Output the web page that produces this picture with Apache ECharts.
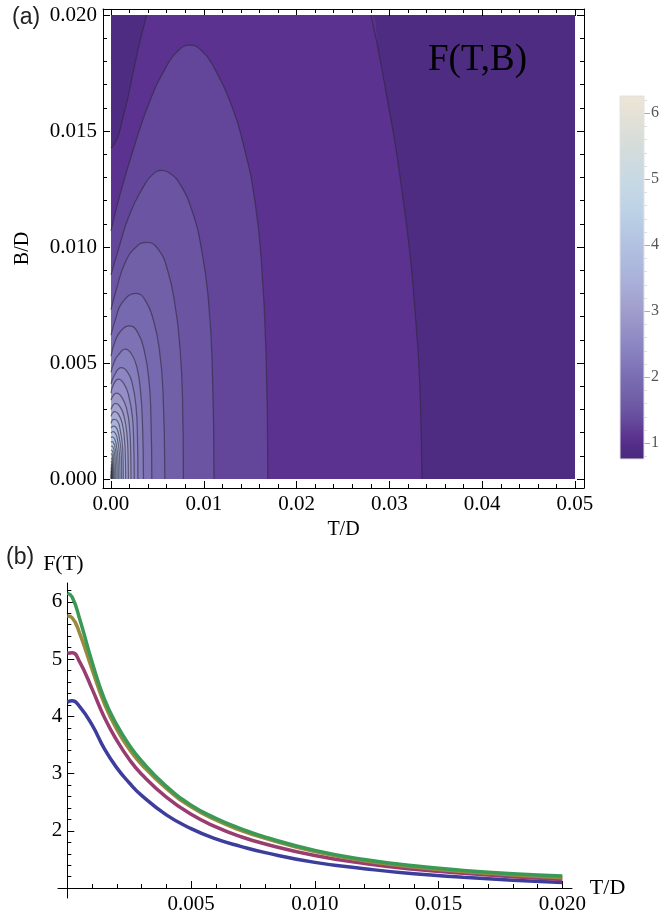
<!DOCTYPE html>
<html><head><meta charset="utf-8">
<script src="https://cdn.jsdelivr.net/npm/echarts@6/dist/echarts.min.js"></script>
<style>html,body{margin:0;padding:0;background:#fff}#c{width:664px;height:915px}</style>
</head><body><div id="c"></div>
<script>
// ================= DATA =================
// (a) contour plot F(T,B): axes ticks
const contourTicksT = [0, 0.01, 0.02, 0.03, 0.04, 0.05];
const contourMinorT = [0.002,0.004,0.006,0.008,0.012,0.014,0.016,0.018,0.022,0.024,0.026,0.028,0.032,0.034,0.036,0.038,0.042,0.044,0.046,0.048];
const contourTicksB = [0, 0.005, 0.01, 0.015, 0.02];
const contourMinorB = [0.001,0.002,0.003,0.004,0.006,0.007,0.008,0.009,0.011,0.012,0.013,0.014,0.016,0.017,0.018,0.019];
// colour bar
const colorbarRange = [0.76, 6.26];
const colorbarTicks = [1, 2, 3, 4, 5, 6];
const colorbarMinor = [0.8,1.2,1.4,1.6,1.8,2.2,2.4,2.6,2.8,3.2,3.4,3.6,3.8,4.2,4.4,4.6,4.8,5.2,5.4,5.6,5.8,6.2];
// contour F = 1.0 (two branches) [T/D, B/D]
const rightContour = [[0.028,0.02],[0.0288,0.0185],[0.0298,0.0163],[0.0306,0.0145],[0.0315,0.012],[0.0323,0.0094],[0.0328,0.007],[0.03315,0.0051],[0.0334,0.0025],[0.0335,0]];
const topLeftContour = [[0,0.01427],[0.0003,0.0144],[0.0008,0.0148],[0.0013,0.0156],[0.0018,0.0164],[0.0029,0.0185],[0.00385,0.02]];
// closed contours around the origin, levels 1.2 ... 6.0
const arcLevels = [1.2,1.4,1.6,1.8,2.0,2.2,2.4,2.6,2.8,3.0,3.2,3.4,3.6,3.8,4.0,4.2,4.4,4.6,4.8,5.0,5.2,5.4,5.6,5.8,6.0];
const arcs = [
 [[0,0.0107],[0.0008,0.0120],[0.0024,0.0142],[0.0042,0.0163],[0.006,0.0178],[0.0072,0.01845],[0.0085,0.0187],[0.0098,0.01845],[0.011,0.0178],[0.0128,0.0163],[0.0144,0.0142],[0.0155,0.012],[0.0162,0.0094],[0.0167,0.0055],[0.0169,0]],
 [[0,0.0088],[0.0008,0.0099],[0.002,0.0114],[0.0035,0.0126],[0.0045,0.01313],[0.0055,0.0133],[0.0064,0.01316],[0.0073,0.0128],[0.0087,0.0116],[0.0098,0.0098],[0.0105,0.0077],[0.0109,0.005],[0.0111,0]],
 [[0,0.0073],[0.0006,0.0082],[0.0015,0.0093],[0.0027,0.0100],[0.0039,0.0102],[0.0051,0.0099],[0.0061,0.0090],[0.0069,0.0075],[0.0074,0.0058],[0.0077,0.0036],[0.0078,0]],
 [[0,0.0062],[0.0005,0.0069],[0.0012,0.0076],[0.0027,0.0080],[0.0037,0.0077],[0.0046,0.0068],[0.0052,0.0056],[0.0056,0.0038],[0.0058,0]],
 [[0,0.0053],[0.0005,0.006],[0.0011,0.0064],[0.002,0.0066],[0.0029,0.0063],[0.0036,0.0055],[0.0041,0.0042],[0.0043,0.0027],[0.0044,0]],
 [[0,0.0046],[0.0004,0.0051],[0.0009,0.0054],[0.0015,0.0056],[0.0022,0.0054],[0.0028,0.0048],[0.0032,0.0037],[0.0034,0.0023],[0.0035,0]],
 [[0,0.0041],[0.0004,0.0045],[0.0011,0.0048],[0.0018,0.0046],[0.0023,0.0041],[0.0027,0.0031],[0.00285,0.0018],[0.0029,0]],
 [[0,0.0037],[0.0003,0.0041],[0.0008,0.0043],[0.0014,0.0041],[0.0019,0.0036],[0.0023,0.0027],[0.00245,0.0015],[0.0025,0]],
 [[0,0.0034],[0.0006,0.0037],[0.0012,0.0035],[0.0017,0.003],[0.002,0.0022],[0.00212,0.0012],[0.00216,0]],
 [[0,0.0030],[0.0005,0.00326],[0.001,0.0031],[0.0014,0.0027],[0.0017,0.002],[0.00183,0.0011],[0.00187,0]],
 [[0,0.0027],[0.0004,0.0029],[0.0008,0.0028],[0.0012,0.0024],[0.00145,0.0017],[0.00155,0.0009],[0.00158,0]],
 [[0,0.0024],[0.0003,0.00257],[0.0007,0.0025],[0.001,0.0021],[0.00122,0.0015],[0.0013,0.0008],[0.00133,0]],
 [[0,0.0022],[0.00025,0.00228],[0.0006,0.0022],[0.00088,0.0018],[0.00106,0.0013],[0.00113,0.0007],[0.00115,0]],
 [[0,0.00198],[0.0002,0.00204],[0.0005,0.00195],[0.00074,0.0016],[0.0009,0.0011],[0.00095,0.0006],[0.00097,0]],
 [[0,0.00178],[0.00015,0.00182],[0.0004,0.00172],[0.0006,0.0014],[0.00073,0.001],[0.00078,0.0005],[0.00079,0]],
 [[0,0.00158],[0.00012,0.00161],[0.00032,0.00152],[0.0005,0.0012],[0.0006,0.0008],[0.00064,0.0004],[0.00065,0]],
 [[0,0.0014],[0.0001,0.00142],[0.00025,0.00133],[0.00038,0.0011],[0.00046,0.0007],[0.00049,0.0003],[0.0005,0]],
 [[0,0.00123],[0.00008,0.00125],[0.0002,0.00115],[0.00031,0.0008],[0.00036,0.0003],[0.00037,0]],
 [[0,0.00106],[0.00006,0.00108],[0.00014,0.001],[0.00022,0.0007],[0.00026,0.0003],[0.00027,0]],
 [[0,0.00091],[0.00004,0.00093],[0.0001,0.00085],[0.00015,0.0006],[0.00018,0]],
 [[0,0.00077],[0.00003,0.00079],[0.00007,0.0007],[0.0001,0.0005],[0.00012,0]],
 [[0,0.00063],[0.00002,0.00065],[0.00005,0.00055],[0.00008,0]],
 [[0,0.0005],[0.00002,0.0005],[0.00004,0.0004],[0.00005,0]],
 [[0,0.00036],[0.00002,0.00035],[0.00003,0]],
 [[0,0.0002],[0.00001,0.0002],[0.000015,0]]
];
// (b) F(T) curves
const lineT       = [0, 0.0002, 0.0005, 0.001, 0.0015, 0.002, 0.0025, 0.003, 0.004, 0.005, 0.006, 0.007, 0.008, 0.010, 0.012, 0.014, 0.016, 0.018, 0.020];
const curveBlue   = [4.25, 4.27, 4.17, 3.85, 3.43, 3.10, 2.84, 2.62, 2.28, 2.04, 1.86, 1.73, 1.62, 1.45, 1.34, 1.25, 1.19, 1.14, 1.10];
const curvePurple = [5.10, 5.11, 4.95, 4.48, 3.98, 3.58, 3.25, 2.99, 2.59, 2.29, 2.07, 1.90, 1.77, 1.57, 1.43, 1.33, 1.26, 1.20, 1.15];
const curveOlive  = [5.75, 5.72, 5.45, 4.82, 4.22, 3.77, 3.43, 3.16, 2.74, 2.42, 2.19, 2.01, 1.87, 1.64, 1.48, 1.37, 1.29, 1.23, 1.18];
const curveGreen  = [6.15, 6.08, 5.70, 4.95, 4.30, 3.85, 3.50, 3.22, 2.78, 2.45, 2.22, 2.04, 1.89, 1.66, 1.50, 1.39, 1.31, 1.25, 1.21];
const lineTicksT = [0.005, 0.010, 0.015, 0.020];
const lineMinorT = [0.001,0.002,0.003,0.004,0.006,0.007,0.008,0.009,0.011,0.012,0.013,0.014,0.016,0.017,0.018,0.019];
const lineTicksF = [2, 3, 4, 5, 6];
const lineMinorF = [1.2,1.4,1.6,1.8,2.2,2.4,2.6,2.8,3.2,3.4,3.6,3.8,4.2,4.4,4.6,4.8,5.2,5.4,5.6,5.8,6.2];

// ================= STYLE =================
const colorStops = [[0.76,'#4a2a7e'],[0.9,'#4d2c82'],[1.1,'#5b3290'],[1.3,'#634699'],[1.5,'#6b55a2'],[1.7,'#7160a8'],[2.0,'#7a6db2'],[2.5,'#8c87c3'],[3.0,'#a09dcc'],[3.5,'#aab2da'],[4.0,'#b2c1e1'],[4.5,'#bcd2e6'],[5.0,'#c7d9e4'],[5.5,'#d5dcda'],[6.0,'#e5e2d6'],[6.26,'#ede6d6']];
function hex(h){return [parseInt(h.substr(1,2),16),parseInt(h.substr(3,2),16),parseInt(h.substr(5,2),16)];}
function colorAt(v){
  if(v<=colorStops[0][0]) return colorStops[0][1];
  for(let i=1;i<colorStops.length;i++){
    if(v<=colorStops[i][0]){
      const a=colorStops[i-1],b=colorStops[i];const f=(v-a[0])/(b[0]-a[0]);
      const ca=hex(a[1]),cb=hex(b[1]);
      return 'rgb('+ca.map((c,k)=>Math.round(c+(cb[k]-c)*f)).join(',')+')';
    }
  }
  return colorStops[colorStops.length-1][1];
}
const SERIF='"Liberation Serif","Times New Roman",serif';
const SANS='"Liberation Sans",Arial,sans-serif';
const contourLine={color:'rgba(45,40,60,0.6)',width:1.25};

// ================= CHART =================
const chart=echarts.init(document.getElementById('c'),null,{renderer:'canvas'});

function frameAxis(pos,gridIndex,min,max,vals,len,opts){
  const a={type:'value',gridIndex,position:pos,min,max,
    axisLine:{show:true,onZero:false,lineStyle:{color:'#000',width:1}},
    axisTick:{show:true,inside:true,length:len,customValues:vals,lineStyle:{color:'#000',width:1}},
    axisLabel:{show:false},splitLine:{show:false}};
  return Object.assign(a,opts||{});
}
const fxMin=-0.000862,fxMax=0.05097,fyMin=-0.000388,fyMax=0.0202586;

const xAxes=[
  frameAxis('bottom',0,fxMin,fxMax,contourTicksT,7,{
    axisLabel:{show:true,customValues:contourTicksT,formatter:v=>v.toFixed(2),fontFamily:SERIF,fontSize:21,color:'#000',margin:6},
    name:'T/D',nameLocation:'middle',nameGap:31,nameTextStyle:{fontFamily:SERIF,fontSize:20,color:'#000'}}),
  frameAxis('bottom',0,fxMin,fxMax,contourMinorT,4,{axisLine:{show:false,onZero:false}}),
  frameAxis('top',0,fxMin,fxMax,contourTicksT,7),
  frameAxis('top',0,fxMin,fxMax,contourMinorT,4,{axisLine:{show:false,onZero:false}}),
  {type:'value',gridIndex:1,min:0,max:0.05,show:false,axisLine:{onZero:false}},
  {type:'value',gridIndex:2,min:0,max:1,show:false,axisLine:{onZero:false}},
  {type:'value',gridIndex:3,position:'bottom',offset:-10,min:-0.000376,max:0.02039,
    axisLine:{show:true,onZero:false,lineStyle:{color:'#000',width:1}},
    axisTick:{show:true,inside:true,length:7,customValues:lineTicksT,lineStyle:{color:'#000'}},
    axisLabel:{show:true,customValues:lineTicksT,formatter:v=>v.toFixed(3),fontFamily:SERIF,fontSize:21,color:'#000',margin:6},
    splitLine:{show:false},
    name:'T/D',nameLocation:'end',nameGap:12,nameTextStyle:{fontFamily:SERIF,fontSize:22,color:'#000'}},
  {type:'value',gridIndex:3,position:'bottom',offset:-10,min:-0.000376,max:0.02039,
    axisLine:{show:false,onZero:false},
    axisTick:{show:true,inside:true,length:4,customValues:lineMinorT,lineStyle:{color:'#000'}},
    axisLabel:{show:false},splitLine:{show:false}}
];
const yAxes=[
  frameAxis('left',0,fyMin,fyMax,contourTicksB,7,{
    axisLabel:{show:true,customValues:contourTicksB,formatter:v=>v.toFixed(3),fontFamily:SERIF,fontSize:21,color:'#000',margin:6},
    name:'B/D',nameLocation:'middle',nameGap:70,nameTextStyle:{fontFamily:SERIF,fontSize:20,color:'#000'}}),
  frameAxis('left',0,fyMin,fyMax,contourMinorB,4,{axisLine:{show:false,onZero:false}}),
  frameAxis('right',0,fyMin,fyMax,contourTicksB,7),
  frameAxis('right',0,fyMin,fyMax,contourMinorB,4,{axisLine:{show:false,onZero:false}}),
  {type:'value',gridIndex:1,min:0,max:0.02,show:false,axisLine:{onZero:false}},
  {type:'value',gridIndex:2,position:'right',min:colorbarRange[0],max:colorbarRange[1],
    axisLine:{show:false,onZero:false},
    axisTick:{show:true,inside:false,length:6,customValues:colorbarTicks,lineStyle:{color:'#aaa'}},
    axisLabel:{show:true,customValues:colorbarTicks,fontFamily:SERIF,fontSize:16,color:'#555',margin:7},
    splitLine:{show:false}},
  {type:'value',gridIndex:2,position:'right',min:colorbarRange[0],max:colorbarRange[1],
    axisLine:{show:false,onZero:false},
    axisTick:{show:true,inside:false,length:3,customValues:colorbarMinor,lineStyle:{color:'#ddd'}},
    axisLabel:{show:false},splitLine:{show:false}},
  {type:'value',gridIndex:3,position:'left',offset:-9.3,min:0.828,max:6.328,
    axisLine:{show:true,onZero:false,lineStyle:{color:'#000',width:1}},
    axisTick:{show:true,inside:true,length:7,customValues:lineTicksF,lineStyle:{color:'#000'}},
    axisLabel:{show:true,customValues:lineTicksF,fontFamily:SERIF,fontSize:21,color:'#000',margin:5},
    splitLine:{show:false},
    name:'F(T)',nameLocation:'end',nameGap:8,nameTextStyle:{fontFamily:SERIF,fontSize:22,color:'#000',align:'center',padding:[0,8,0,0]}},
  {type:'value',gridIndex:3,position:'left',offset:-9.3,min:0.828,max:6.328,
    axisLine:{show:false,onZero:false},
    axisTick:{show:true,inside:true,length:4,customValues:lineMinorF,lineStyle:{color:'#000'}},
    axisLabel:{show:false},splitLine:{show:false}}
];

const series=[];
// region F > 1 (left of the right F=1 contour)
series.push({type:'line',xAxisIndex:4,yAxisIndex:4,data:[[0,0.02]].concat(rightContour),
  smooth:0.4,symbol:'none',silent:true,
  lineStyle:{width:0,opacity:0},areaStyle:{color:colorAt(1.1),opacity:1}});
series.push({type:'line',xAxisIndex:4,yAxisIndex:4,data:rightContour,smooth:0.4,symbol:'none',silent:true,lineStyle:contourLine});
// top-left region F < 1
series.push({type:'line',xAxisIndex:4,yAxisIndex:4,data:topLeftContour,smooth:0.4,symbol:'none',silent:true,
  lineStyle:contourLine,areaStyle:{origin:'end',color:colorAt(0.9),opacity:1}});
arcs.forEach((pts,i)=>{
  series.push({type:'line',xAxisIndex:4,yAxisIndex:4,data:pts,smooth:0.5,symbol:'none',silent:true,
    lineStyle:contourLine,areaStyle:{color:colorAt(arcLevels[i]+0.1),opacity:1}});
});
// colour bar
series.push({type:'custom',xAxisIndex:5,yAxisIndex:5,silent:true,data:[[colorbarRange[0],colorbarRange[1]]],
  renderItem:(params,api)=>{
    const p0=api.coord([0,api.value(0)]),p1=api.coord([1,api.value(1)]);
    const span=colorbarRange[1]-colorbarRange[0];
    const stops=colorStops.map(s=>({offset:(s[0]-colorbarRange[0])/span,color:s[1]}));
    return {type:'rect',shape:{x:p0[0],y:p1[1],width:p1[0]-p0[0],height:p0[1]-p1[1]},
      style:{fill:new echarts.graphic.LinearGradient(0,1,0,0,stops),stroke:'#e2e2e2',lineWidth:1}};
  }});
// (b) curves
[[curveBlue,'#3d3d9c'],[curvePurple,'#993d71'],[curveOlive,'#9b8a3d'],[curveGreen,'#3a9a55']].forEach(([c,col])=>{
  series.push({type:'line',xAxisIndex:6,yAxisIndex:7,data:lineT.map((t,i)=>[t,c[i]]),smooth:0.5,symbol:'none',silent:true,
    lineStyle:{color:col,width:3.5}});
});

chart.setOption({
  animation:false,
  title:[
    {text:'(a)',left:12,top:6,padding:0,textStyle:{fontFamily:SANS,fontSize:23,fontWeight:'normal',color:'#222'}},
    {text:'F(T,B)',left:428,top:42,padding:0,textStyle:{fontFamily:SERIF,fontSize:37,fontWeight:'normal',color:'#000'}},
    {text:'(b)',left:6,top:546,padding:0,textStyle:{fontFamily:SANS,fontSize:23,fontWeight:'normal',color:'#222'}}
  ],
  grid:[
    {left:103,top:9,width:481,height:479,containLabel:false},
    {left:111,top:15,width:464,height:464,show:true,backgroundColor:colorAt(0.9),borderWidth:0},
    {left:620,top:96,width:24,height:363},
    {left:58,top:583,width:514,height:319}
  ],
  xAxis:xAxes,yAxis:yAxes,series
});
</script></body></html>
